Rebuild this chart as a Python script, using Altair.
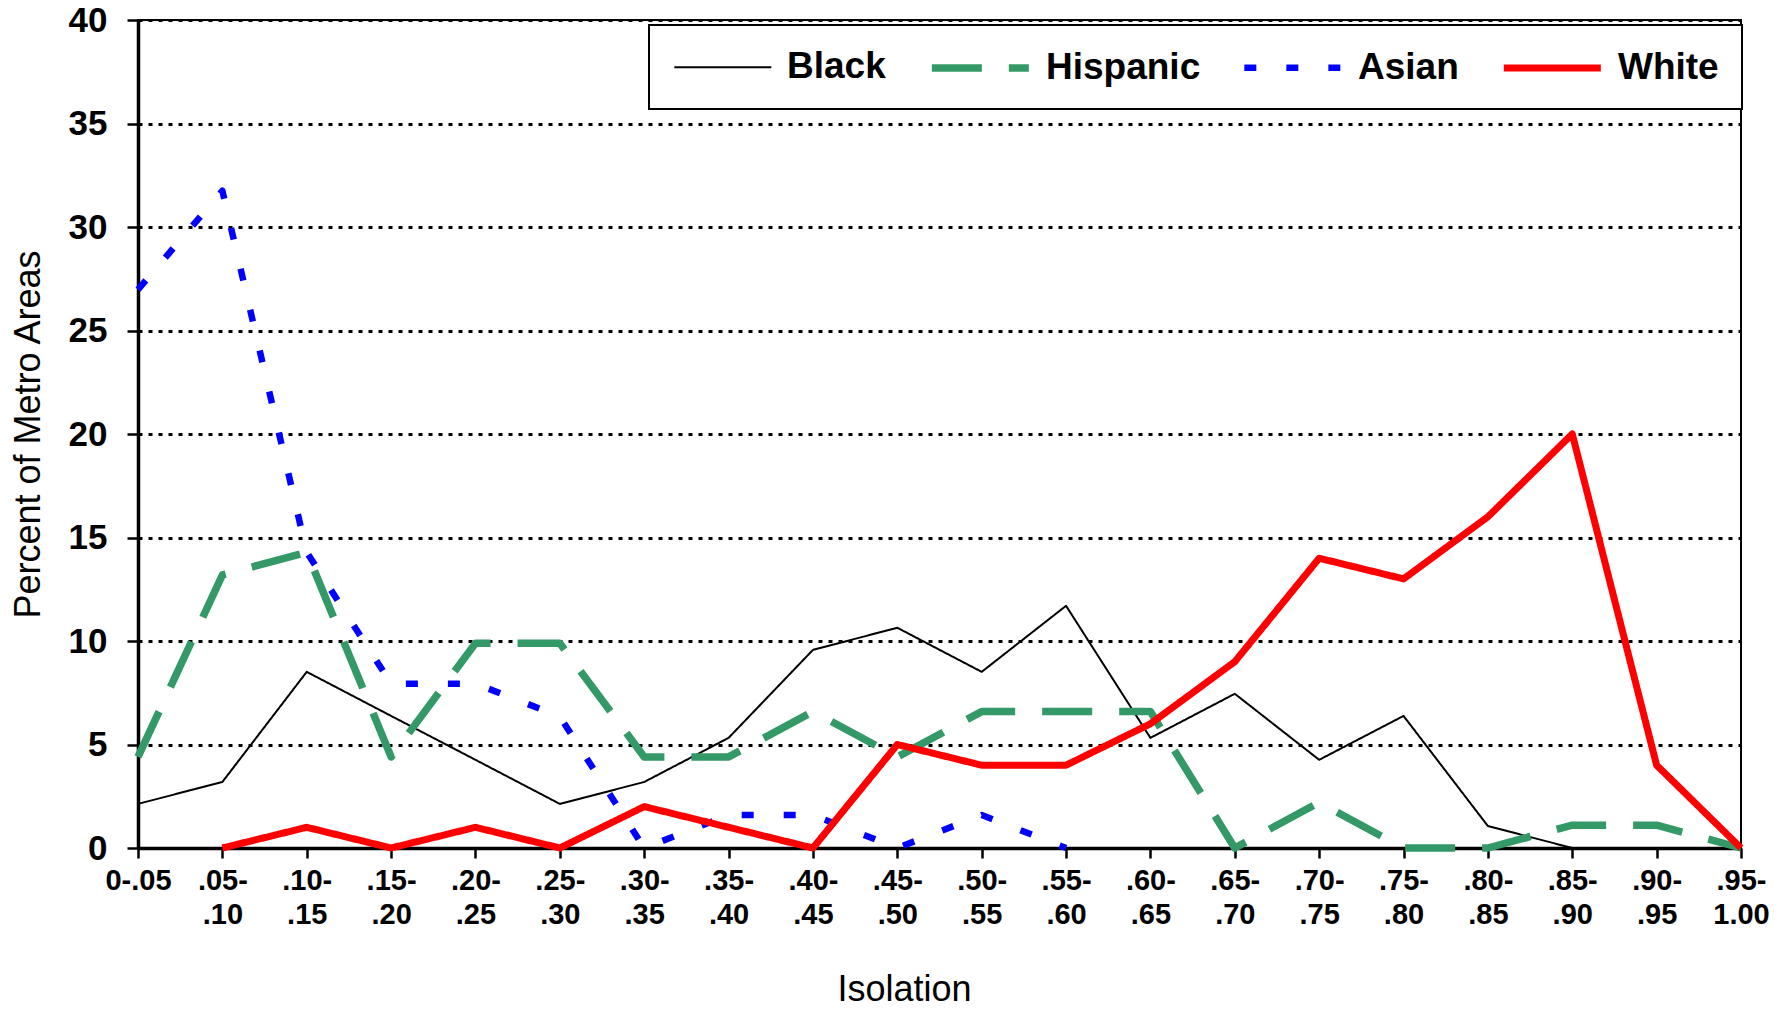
import altair as alt
import pandas as pd

# ---- data ----
categories = ["0-.05", ".05-|.10", ".10-|.15", ".15-|.20", ".20-|.25", ".25-|.30",
              ".30-|.35", ".35-|.40", ".40-|.45", ".45-|.50", ".50-|.55", ".55-|.60",
              ".60-|.65", ".65-|.70", ".70-|.75", ".75-|.80", ".80-|.85", ".85-|.90",
              ".90-|.95", ".95-|1.00"]

black = [2.13, 3.19, 8.51, 6.38, 4.26, 2.13, 3.19, 5.32, 9.57, 10.64, 8.51, 11.70,
         5.32, 7.45, 4.26, 6.38, 1.06, 0.0, None, None]
hispanic = [4.40, 13.19, 14.29, 4.40, 9.89, 9.89, 4.40, 4.40, 6.59, 4.40, 6.59, 6.59,
            6.59, 0.0, 2.20, 0.0, 0.0, 1.10, 1.10, 0.0]
asian = [26.98, 31.75, 14.29, 7.94, 7.94, 6.35, 0.0, 1.59, 1.59, 0.0, 1.59, 0.0,
         None, None, None, None, None, None, None, None]
white = [None, 0.0, 1.0, 0.0, 1.0, 0.0, 2.0, 1.0, 0.0, 5.0, 4.0, 4.0,
         6.0, 9.0, 14.0, 13.0, 16.0, 20.0, 4.0, 0.0]

series_names = ["Black", "Hispanic", "Asian", "White"]
series_values = [black, hispanic, asian, white]
series_colors = ["#000000", "#339966", "#0000FF", "#FF0000"]
series_dash = [[1, 0], [50, 27], [12, 30], [1, 0]]
series_width = [2, 7.5, 6.5, 7]

rows = []
for name, vals in zip(series_names, series_values):
    for cat, v in zip(categories, vals):
        if v is not None:
            rows.append({"bin": cat, "value": v, "race": name})
df = pd.DataFrame(rows)

legend = alt.Legend(
    orient="none", legendX=511, legendY=5, direction="horizontal", title=None,
    symbolType="M-1,0H5", symbolSize=1045, labelFont="Liberation Sans",
    labelFontSize=37, labelFontWeight="bold", labelColor="black",
    labelOffset=78, columnPadding=30, padding=23, strokeColor="black",
    labelLimit=400, fillColor="white",
)

chart = alt.Chart(df).mark_line(strokeJoin="round").encode(
    x=alt.X("bin:O", sort=categories,
            scale=alt.Scale(type="point", padding=0),
            axis=alt.Axis(title="Isolation", labelAngle=0,
                          labelExpr="split(datum.label, '|')",
                          labelFont="Liberation Sans Narrow, Liberation Sans",
                          labelFontSize=29, labelFontWeight="bold",
                          labelColor="black", labelLineHeight=34,
                          labelPadding=8, labelOverlap=False,
                          tickSize=10, tickWidth=2.5, tickColor="black",
                          domainColor="black", domainWidth=3.5,
                          grid=False,
                          titleFont="Liberation Sans", titleFontSize=36,
                          titleFontWeight="normal", titleColor="black",
                          titleX=766, titleY=152, titleBaseline="alphabetic",
                          titleAlign="center")),
    y=alt.Y("value:Q",
            scale=alt.Scale(domain=[0, 40], nice=False),
            axis=alt.Axis(title="Percent of Metro Areas",
                          values=[0, 5, 10, 15, 20, 25, 30, 35, 40],
                          labelFont="Liberation Sans", labelFontSize=35,
                          labelFontWeight="bold", labelColor="black",
                          labelPadding=20, tickSize=11, tickWidth=2.5,
                          tickColor="black", domainColor="black",
                          domainWidth=3.5, grid=True, gridColor="black",
                          gridDash=[4, 6], gridWidth=3, gridOpacity=1,
                          titleFont="Liberation Sans", titleFontSize=36,
                          titleFontWeight="normal", titleColor="black",
                          titleX=-110, titleY=414, titleAngle=-90,
                          titleAlign="center", titleBaseline="middle")),
    color=alt.Color("race:N", sort=series_names,
                    scale=alt.Scale(domain=series_names, range=series_colors),
                    legend=legend),
    strokeDash=alt.StrokeDash("race:N", sort=series_names,
                              scale=alt.Scale(domain=series_names, range=series_dash),
                              legend=legend),
    strokeWidth=alt.StrokeWidth("race:N", sort=series_names,
                                scale=alt.Scale(type="ordinal", domain=series_names,
                                                range=series_width),
                                legend=legend),
).properties(
    width=1603, height=828,
    autosize=alt.AutoSizeParams(type="none"),
    padding={"left": 130, "top": 12, "right": 34, "bottom": 156},
).configure_view(
    stroke="black", strokeWidth=2
).configure_legend(
    strokeWidth=2
)

chart.save("out.html", embed_options={"renderer": "svg", "actions": False})
